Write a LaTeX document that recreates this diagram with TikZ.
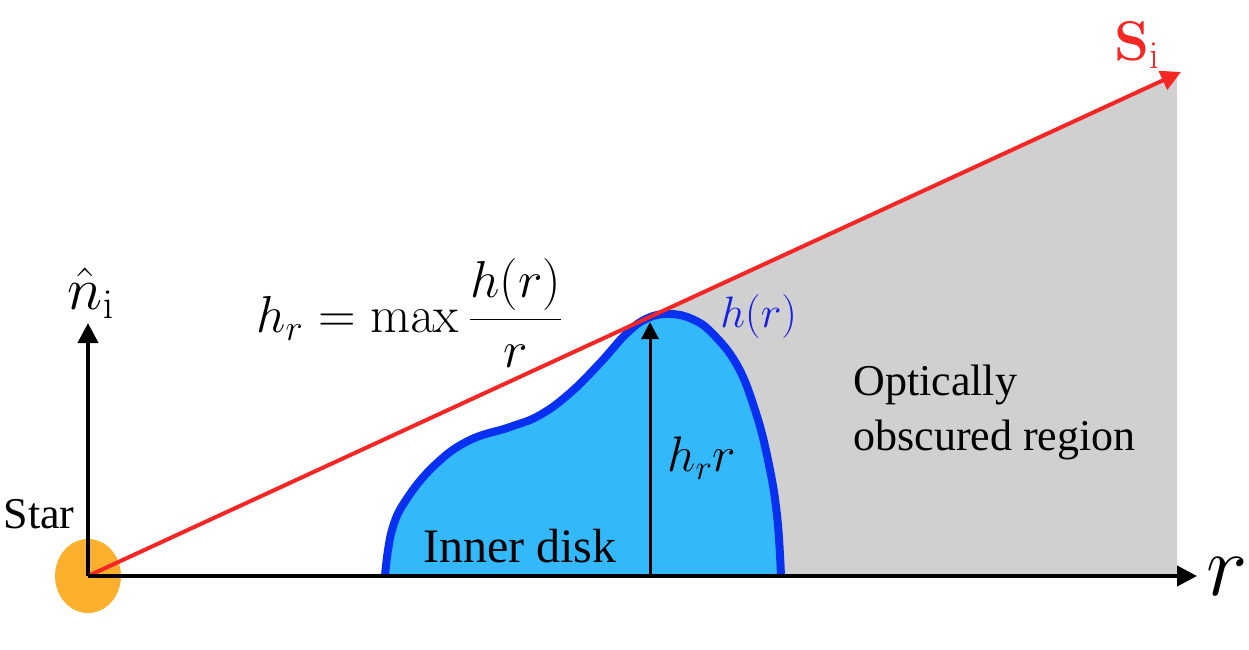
\RequirePackage{fix-cm}
\documentclass[tikz,border=0pt]{standalone}
\usepackage[no-math]{fontspec}
\setmainfont{Liberation Serif}
\usetikzlibrary{arrows.meta,shapes.geometric}
\definecolor{redline}{RGB}{245,38,35}
\definecolor{blobedge}{RGB}{8,48,240}
\definecolor{blobfill}{RGB}{51,184,250}
\definecolor{obsgray}{RGB}{208,208,208}
\definecolor{starorange}{RGB}{251,176,46}
\definecolor{hblue}{RGB}{20,30,230}
\tikzset{
  axis/.style={line width=2pt, -{Triangle[length=10pt,width=10pt]}},
  harrow/.style={line width=1.5pt, -{Triangle[length=8.5pt,width=8.5pt]}},
  sline/.style={redline, line width=2pt, -{Triangle[length=10pt,width=10pt]}},
  txt/.style={font=\fontsize{22}{27}\selectfont, inner sep=0pt},
  mth/.style={font=\fontsize{24}{28}\selectfont, inner sep=0pt},
}
\begin{document}
\begin{tikzpicture}[x=0.5pt,y=-0.5pt]
\useasboundingbox (0,0) rectangle (1249,649);
% obscured region
\fill[obsgray] (655,315) -- (1177,73) -- (1177,576) -- (655,576) -- cycle;
% inner disk
\filldraw[fill=blobfill, draw=blobedge, line width=4pt, line join=round]
  plot[smooth, tension=0.7] coordinates {(385,576) (392,530) (408,497) (437,463) (470,440) (510,427) (540,415) (570,393) (600,363) (627,333) (648,318) (670,314) (692,319) (712,333) (737,365) (755,410) (768,460) (777,515) (781,576)};
% star
\node[ellipse, fill=starorange, minimum width=33pt, minimum height=37pt, inner sep=0pt] (star) at (88,576) {};
\coordinate (O) at (88,576);
\coordinate (rend) at (1197,576);
\coordinate (nend) at (88,323);
\coordinate (send) at (1181,72);
\coordinate (hbase) at (650,576);
\coordinate (htop) at (650,322);
% line of sight
\draw[sline] (O) -- (send);
% axes
\draw[axis] (O) -- (rend);
\draw[axis] (O) -- (nend);
% height arrow
\draw[harrow] (hbase) -- (htop);
% labels
\node[mth, font=\fontsize{44}{48}\selectfont, anchor=west] (rlab) at (1206,577) {$r$};
\node[mth, font=\fontsize{30}{34}\selectfont, anchor=south] (nlab) at (91,319) {$\hat{n}_{\mathrm{i}}$};
\node[mth, text=redline, font=\fontsize{28}{32}\selectfont] (slab) at (1137,45) {$\mathbf{S}_{\mathrm{i}}$};
\node[txt, anchor=base] (starlab) at (39,528) {Star};
\node[mth, font=\fontsize{26}{30}\selectfont, anchor=west] (formula) at (256,313) {$\displaystyle h_r = \max\frac{h(r)}{r}$};
\node[mth, text=hblue, font=\fontsize{22}{26}\selectfont, anchor=west] (hlab) at (720,316) {$h(r)$};
\node[mth, font=\fontsize{25}{29}\selectfont, anchor=west] (hrr) at (667,458) {$h_r r$};
\node[txt, font=\fontsize{24}{28}\selectfont, anchor=base] (inner) at (520,562) {Inner disk};
\node[txt, anchor=base west] (opt1) at (853,395) {Optically};
\node[txt, anchor=base west] (opt2) at (853,450) {obscured region};
\end{tikzpicture}
\end{document}
